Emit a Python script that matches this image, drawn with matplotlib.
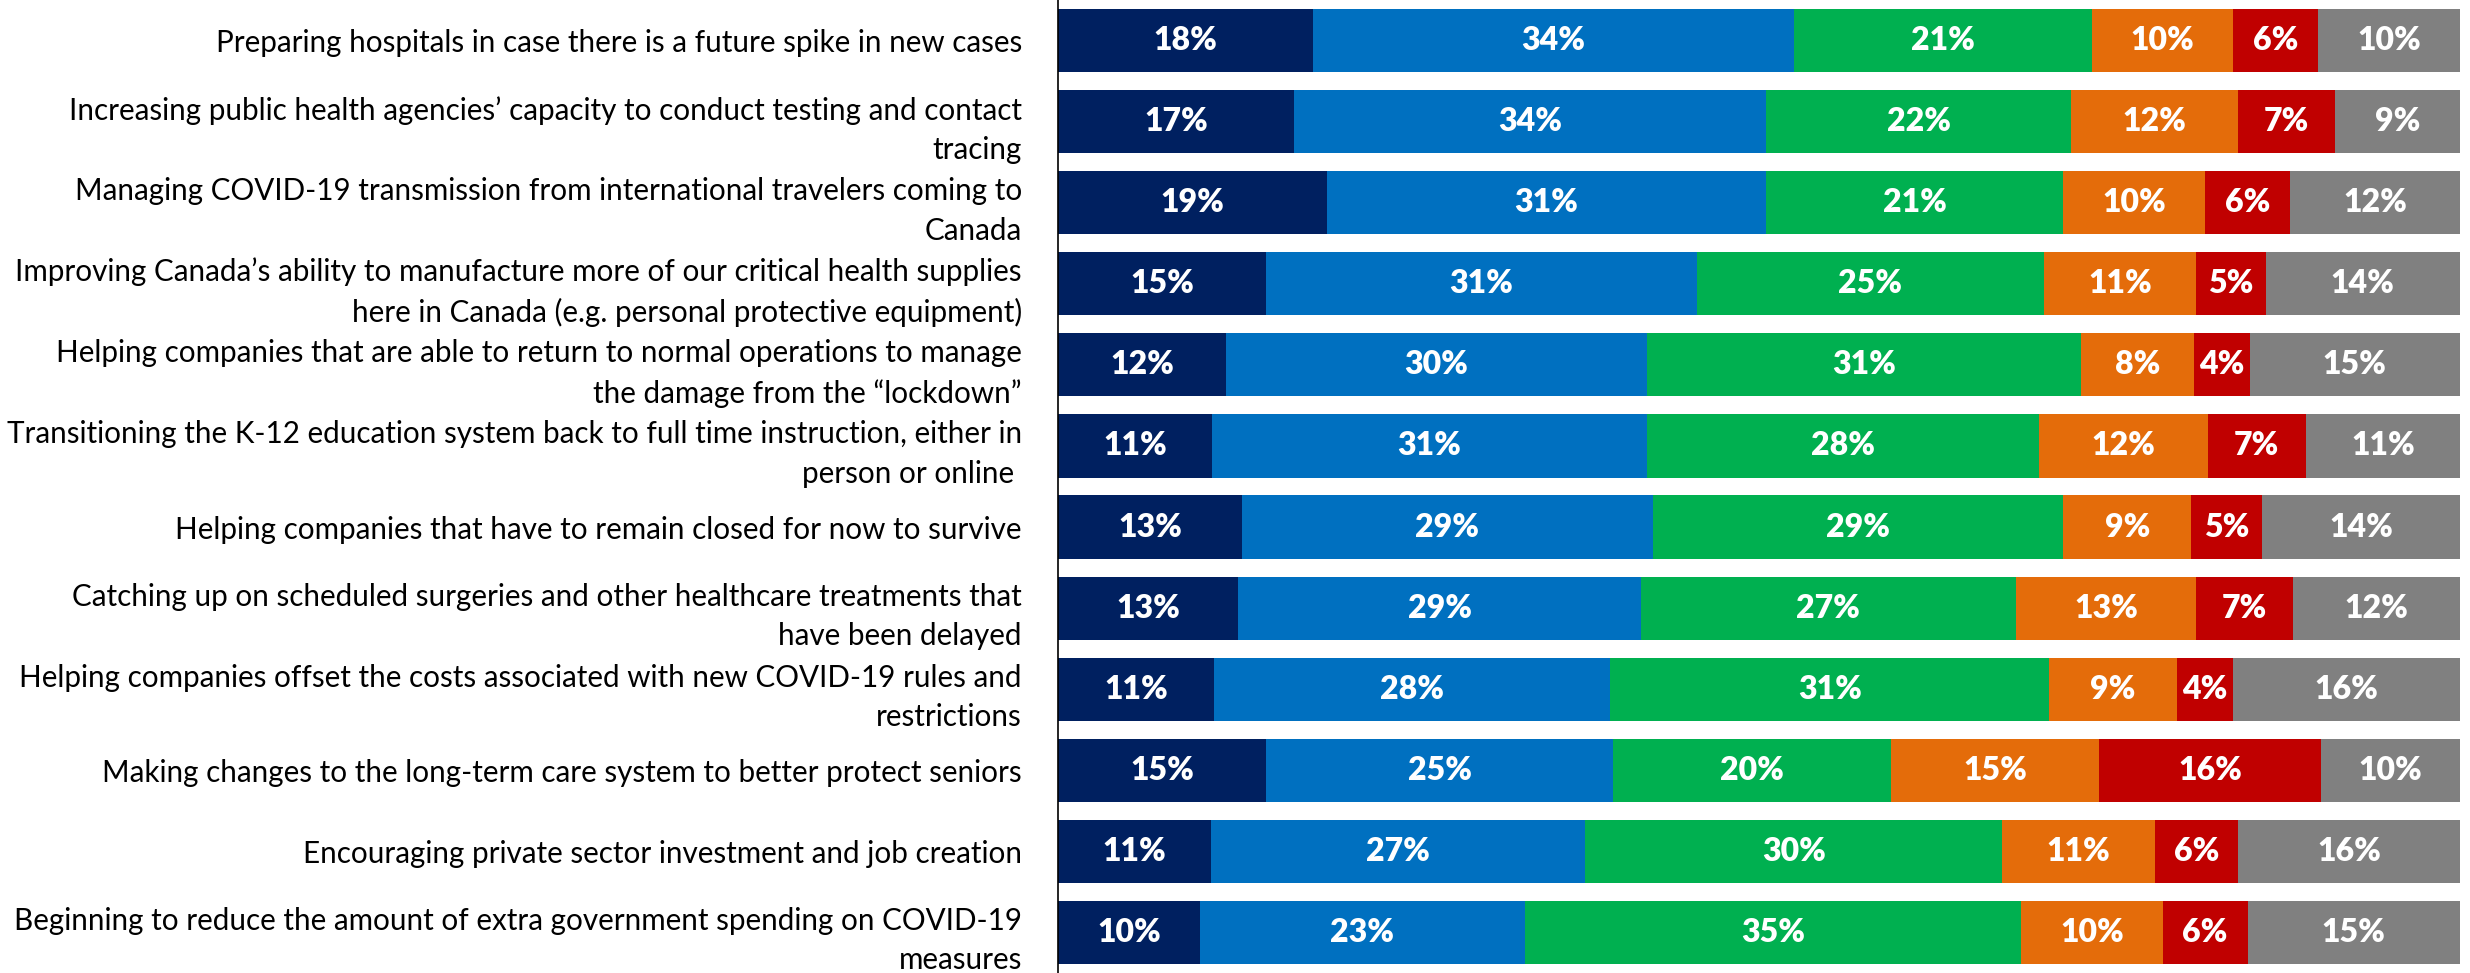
import numpy as np
import matplotlib
matplotlib.use("Agg")
import matplotlib.pyplot as plt

# survey items, top to bottom
labels = [
    "Preparing hospitals in case there is a future spike in new cases",
    "Increasing public health agencies\u2019 capacity to conduct testing and contact\ntracing",
    "Managing COVID-19 transmission from international travelers coming to\nCanada",
    "Improving Canada\u2019s ability to manufacture more of our critical health supplies\nhere in Canada (e.g. personal protective equipment)",
    "Helping companies that are able to return to normal operations to manage\nthe damage from the \u201clockdown\u201d",
    "Transitioning the K-12 education system back to full time instruction, either in\nperson or online ",
    "Helping companies that have to remain closed for now to survive",
    "Catching up on scheduled surgeries and other healthcare treatments that\nhave been delayed",
    "Helping companies offset the costs associated with new COVID-19 rules and\nrestrictions",
    "Making changes to the long-term care system to better protect seniors",
    "Encouraging private sector investment and job creation",
    "Beginning to reduce the amount of extra government spending on COVID-19\nmeasures",
]

# one list per response category (left to right)
seg1 = [18, 17, 19, 15, 12, 11, 13, 13, 11, 15, 11, 10]
seg2 = [34, 34, 31, 31, 30, 31, 29, 29, 28, 25, 27, 23]
seg3 = [21, 22, 21, 25, 31, 28, 29, 27, 31, 20, 30, 35]
seg4 = [10, 12, 10, 11, 8, 12, 9, 13, 9, 15, 11, 10]
seg5 = [6, 7, 6, 5, 4, 7, 5, 7, 4, 16, 6, 6]
seg6 = [10, 9, 12, 14, 15, 11, 14, 12, 16, 10, 16, 15]

colors = ["#002060", "#0070C0", "#00B050", "#E46C0A", "#C00000", "#808080"]

def main():
    series = np.array([seg1, seg2, seg3, seg4, seg5, seg6], dtype=float)
    totals = series.sum(axis=0)
    widths = series / totals * 100  # rounded labels don't always sum to 100

    fig = plt.figure(figsize=(24.7, 9.73), dpi=100)
    ax = fig.add_axes([1058 / 2470, 0.0, 1402 / 2470, 1.0])

    y = np.arange(len(labels))
    left = np.zeros(len(labels))
    for i in range(len(series)):
        ax.barh(y, widths[i], left=left, height=0.78, color=colors[i])
        for j in range(len(labels)):
            ax.text(left[j] + widths[i][j] / 2, y[j], f"{int(series[i][j])}%",
                    ha="center", va="center", color="white",
                    fontsize=23, fontweight="heavy", family="Lato")
        left += widths[i]

    ax.set_xlim(0, 100)
    ax.set_ylim(len(labels) - 0.5, -0.5)
    ax.set_yticks(y)
    ax.set_yticklabels(labels, fontsize=21.3, family="Lato", linespacing=1.5)
    ax.tick_params(axis="y", length=0, pad=26)
    ax.set_xticks([])
    for s in ["top", "right", "bottom"]:
        ax.spines[s].set_visible(False)
    ax.spines["left"].set_linewidth(1.2)
    ax.spines["left"].set_color("black")

    fig.savefig("out.png", dpi=100)

if __name__ == "__main__":
    main()
